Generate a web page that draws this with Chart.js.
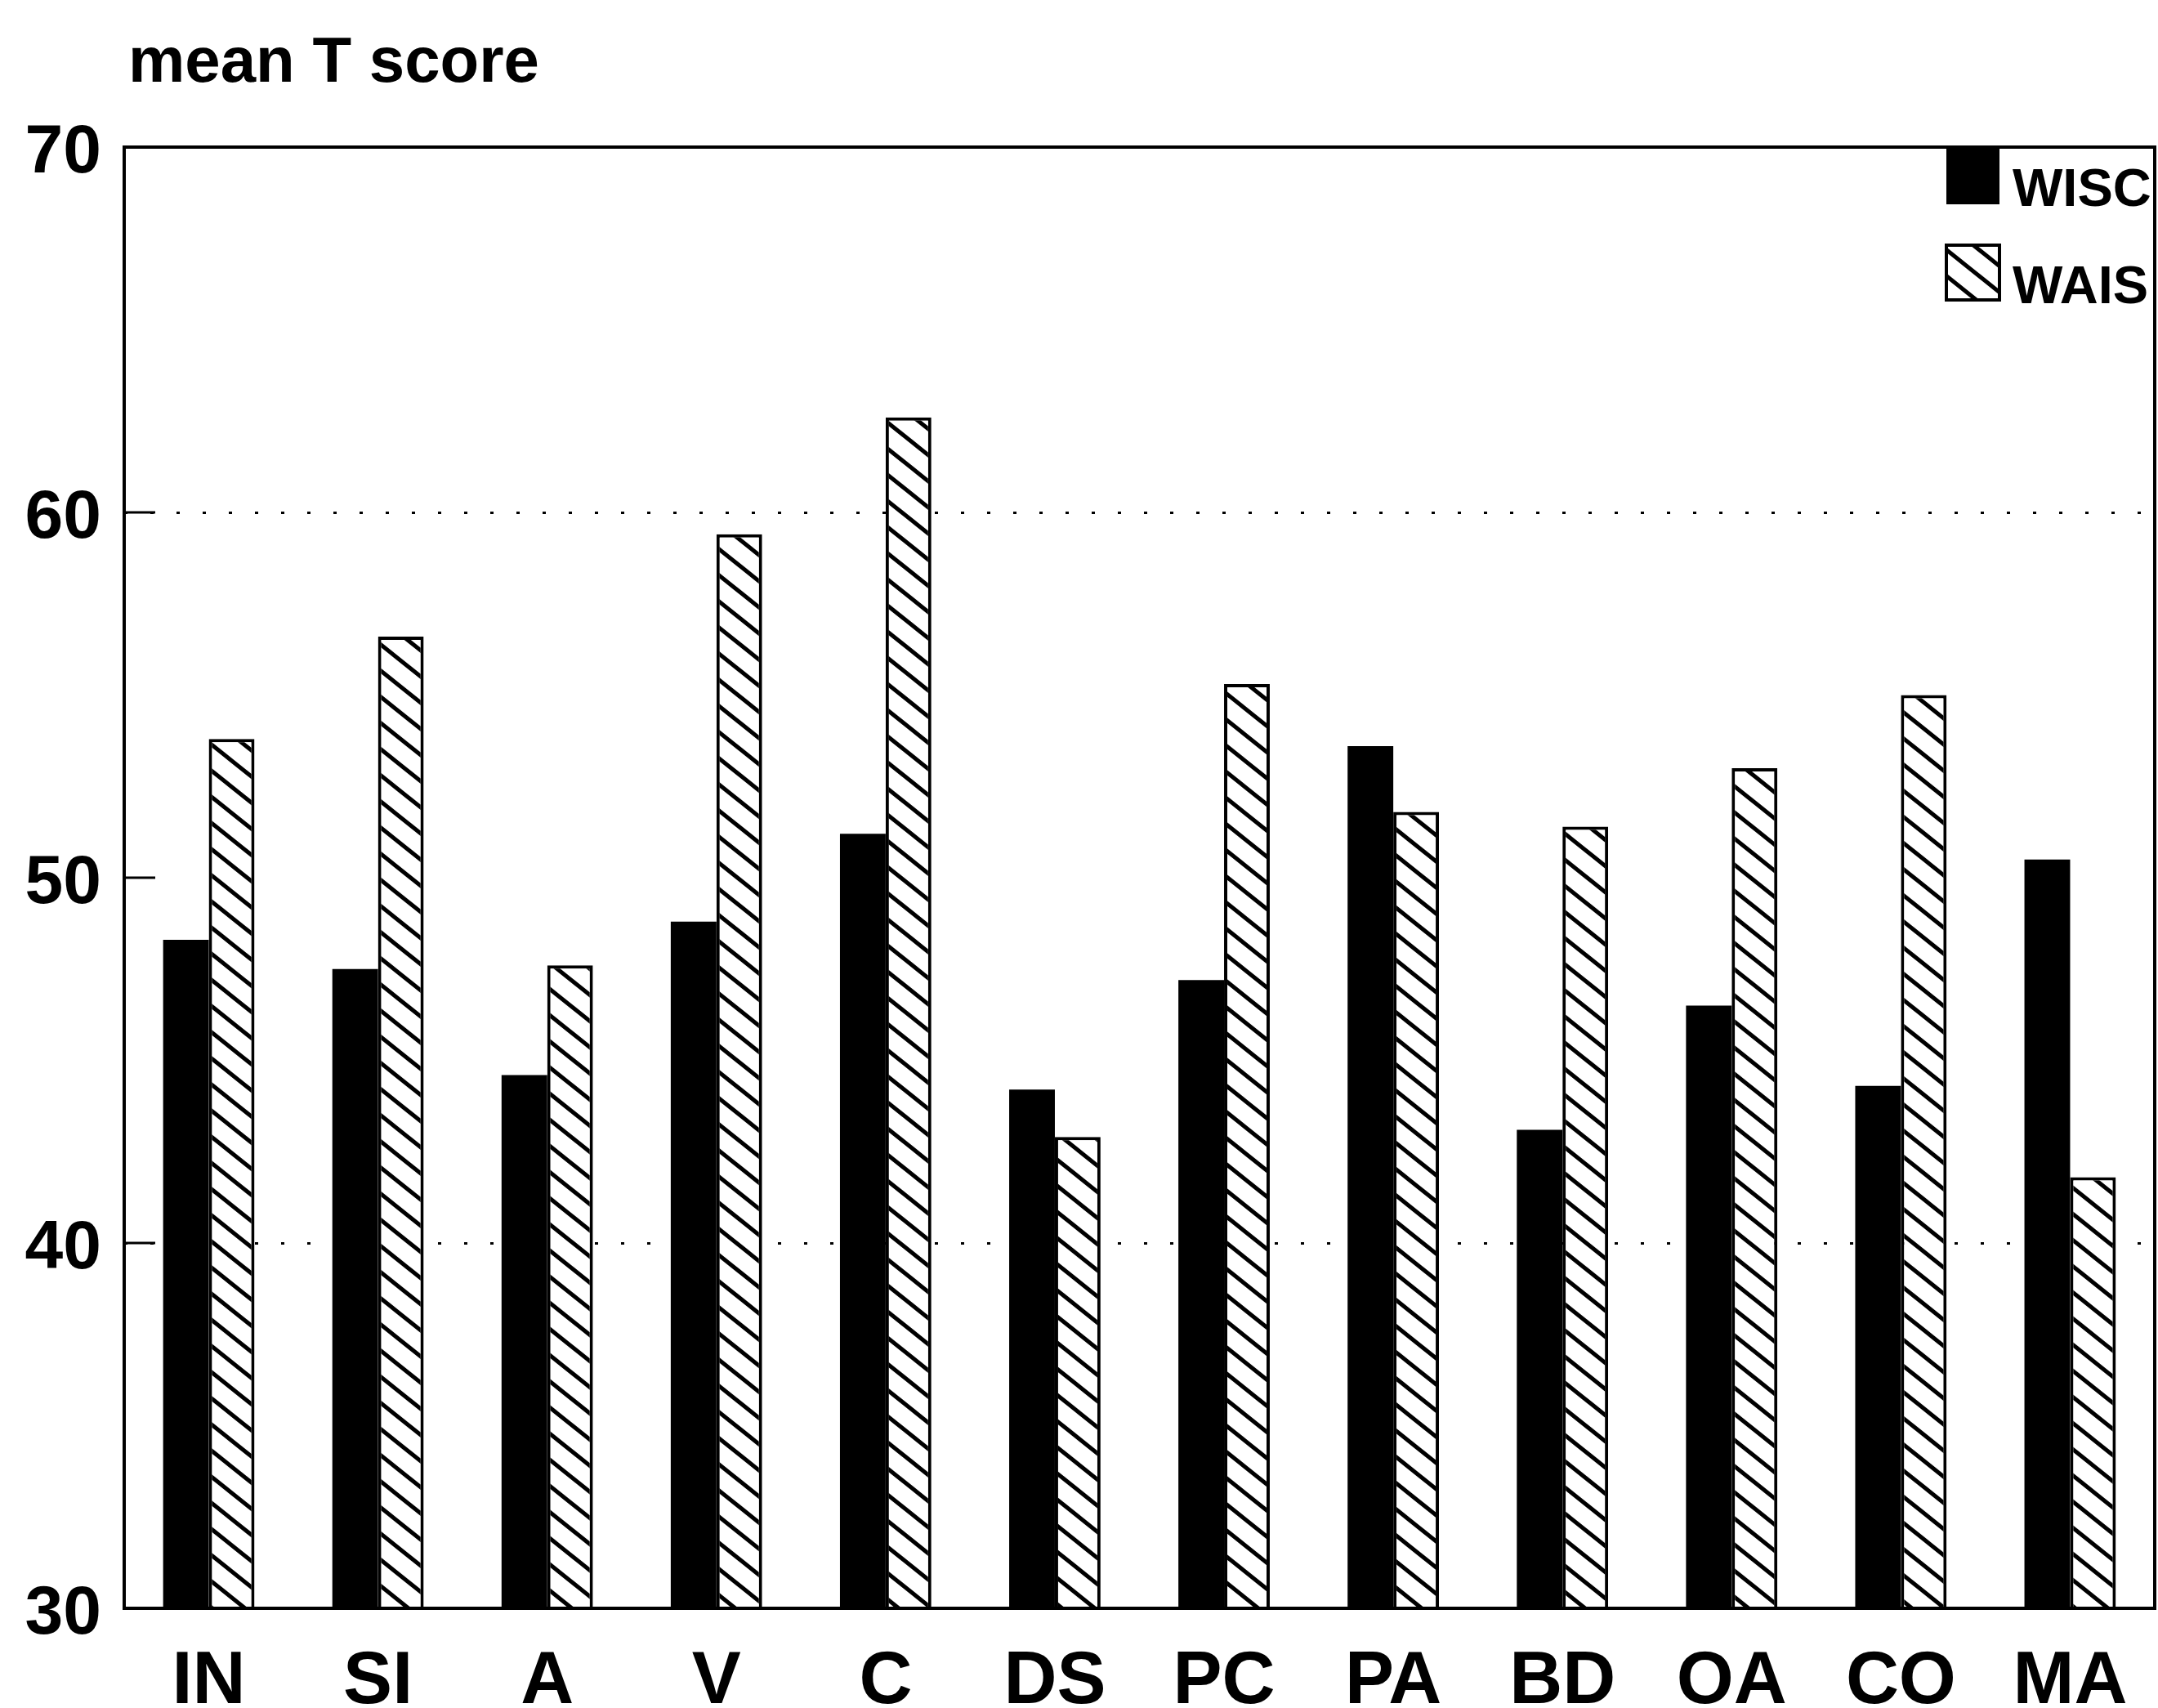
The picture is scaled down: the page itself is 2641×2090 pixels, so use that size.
<!DOCTYPE html>
<html>
<head>
<meta charset="utf-8">
<script src="https://cdn.jsdelivr.net/npm/chart.js@4"></script>
<style>
    html, body { margin: 0; padding: 0; background: #fff; }
    canvas { display: block; }
</style>
</head>
<body>
<canvas id="tscoreChart" width="2641" height="2090"></canvas>
<script>
const subtests = ["IN", "SI", "A", "V", "C", "DS", "PC", "PA", "BD", "OA", "CO", "MA"];
const wiscScores = [48.3, 47.5, 44.6, 48.8, 51.2, 44.2, 47.2, 53.6, 43.1, 46.5, 44.3, 50.5];
const waisScores = [53.8, 56.6, 47.6, 59.4, 62.6, 42.9, 55.3, 51.8, 51.4, 53.0, 55.0, 41.8];
const yTicks = [30, 40, 50, 60, 70];
const dottedLines = [40, 60];
const innerTicks = [40, 50, 60];
const yTitle = "mean T score";

const FONT = "'Liberation Sans', Arial, Helvetica, sans-serif";

// diagonal "\\" hatch used for the WAIS bars
function makeHatch() {
    const w = 40, h = 32;
    const tile = document.createElement("canvas");
    tile.width = w;
    tile.height = h;
    const c = tile.getContext("2d");
    c.fillStyle = "#fff";
    c.fillRect(0, 0, w, h);
    c.strokeStyle = "#000";
    c.lineWidth = 5;
    for (let k = -1; k <= 1; k++) {
        c.beginPath();
        c.moveTo(-4, k * h - 4 * h / w);
        c.lineTo(w + 4, k * h + h + 4 * h / w);
        c.stroke();
    }
    return c.createPattern(tile, "repeat");
}

const canvas = document.getElementById("tscoreChart");
const hatch = makeHatch();

// frame, short inner ticks, title and the legend inside the plot
const decorations = {
    id: "decorations",
    afterDraw(chart) {
        const ctx = chart.ctx;
        const ca = chart.chartArea;
        const yScale = chart.scales.y;
        ctx.save();
        ctx.setLineDash([]);
        ctx.strokeStyle = "#000";
        ctx.lineWidth = 4;
        ctx.strokeRect(ca.left, ca.top, ca.right - ca.left, ca.bottom - ca.top);

        ctx.lineWidth = 3;
        innerTicks.forEach(v => {
            const y = yScale.getPixelForValue(v);
            ctx.beginPath();
            ctx.moveTo(ca.left, y);
            ctx.lineTo(ca.left + 38, y);
            ctx.stroke();
        });

        ctx.fillStyle = "#000";
        ctx.font = "bold 78px " + FONT;
        ctx.textBaseline = "alphabetic";
        ctx.textAlign = "left";
        ctx.fillText(yTitle, 157, 100);

        const sets = chart.data.datasets;
        const swX = ca.right - 255;
        const rows = [ca.top + 1, ca.top + 120];
        ctx.font = "bold 65px " + FONT;
        sets.forEach((ds, i) => {
            const y = rows[i];
            ctx.fillStyle = ds.backgroundColor;
            ctx.fillRect(swX, y, 65, 69);
            if (ds.borderWidth) {
                ctx.lineWidth = 4;
                ctx.strokeRect(swX, y, 65, 67);
            }
            ctx.fillStyle = "#000";
            ctx.fillText(ds.label, ca.right - 174, y + 71);
        });
        ctx.restore();
    }
};

new Chart(canvas, {
    type: "bar",
    data: {
        labels: subtests,
        datasets: [
            {
                label: "WISC",
                data: wiscScores,
                backgroundColor: "#000",
                borderWidth: 0
            },
            {
                label: "WAIS",
                data: waisScores,
                backgroundColor: hatch,
                borderColor: "#000",
                borderWidth: 4,
                borderSkipped: "bottom"
            }
        ]
    },
    options: {
        responsive: false,
        devicePixelRatio: 1,
        animation: false,
        categoryPercentage: 0.54,
        barPercentage: 1.0,
        layout: { padding: { top: 180, right: 4, left: 0, bottom: 0 } },
        plugins: {
            legend: { display: false },
            tooltip: { enabled: false }
        },
        scales: {
            x: {
                grid: { display: false, drawTicks: false },
                border: { display: false },
                ticks: {
                    color: "#000",
                    font: { family: FONT, size: 90, weight: "bold" },
                    padding: 37,
                    maxRotation: 0,
                    autoSkip: false
                },
                afterFit: s => { s.height = 122; }
            },
            y: {
                min: 30,
                max: 70,
                afterBuildTicks: s => { s.ticks = yTicks.map(v => ({ value: v })); },
                grid: {
                    drawTicks: false,
                    lineWidth: 3,
                    color: c => (c.tick && dottedLines.includes(c.tick.value)) ? "#000" : "rgba(0,0,0,0)"
                },
                border: { display: false, dash: [4, 28] },
                ticks: {
                    color: "#000",
                    font: { family: FONT, size: 84, weight: "bold" },
                    padding: 28,
                    labelOffset: 8
                },
                afterFit: s => { s.width = 152; }
            }
        }
    },
    plugins: [decorations]
});
</script>
</body>
</html>
